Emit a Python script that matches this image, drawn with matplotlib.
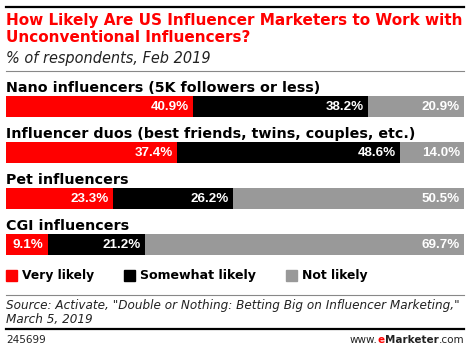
import matplotlib
matplotlib.use("Agg")
import matplotlib.pyplot as plt
from matplotlib.patches import Rectangle
from matplotlib.lines import Line2D

categories = [
    "Nano influencers (5K followers or less)",
    "Influencer duos (best friends, twins, couples, etc.)",
    "Pet influencers",
    "CGI influencers",
]
very_likely = [40.9, 37.4, 23.3, 9.1]
somewhat_likely = [38.2, 48.6, 26.2, 21.2]
not_likely = [20.9, 14.0, 50.5, 69.7]
series_names = ["Very likely", "Somewhat likely", "Not likely"]
colors = ["#ff0000", "#000000", "#999999"]

W, H = 470, 351
fig = plt.figure(figsize=(W / 100, H / 100), dpi=100)
renderer = fig.canvas.get_renderer()

BOLD = "DejaVu Sans"
VAL = "Liberation Sans"
REG = "DejaVu Sans"


def fx(px):
    return px / W


def fy(py):
    return 1 - py / H


def fit(t, target_w):
    fs = t.get_fontsize()
    w = t.get_window_extent(renderer).width
    t.set_fontsize(fs * target_w / w)
    return t


def hline(y, x0, x1, color, lw):
    fig.add_artist(Line2D([fx(x0), fx(x1)], [fy(y), fy(y)], color=color, lw=lw,
                          transform=fig.transFigure))


# header
hline(7, 6, 464, "black", 1.6)
t1 = fig.text(fx(6), fy(20), "How Likely Are US Influencer Marketers to Work with",
              color="#ff0000", fontweight="bold", family=BOLD, fontsize=11, va="center")
fit(t1, 454)
t2 = fig.text(fx(6), fy(38), "Unconventional Influencers?", color="#ff0000",
              fontweight="bold", family=BOLD, fontsize=t1.get_fontsize(), va="center")
t3 = fig.text(fx(6), fy(58), "% of respondents, Feb 2019", style="italic",
              family=REG, fontsize=10, va="center", color="#222222")
fit(t3, 204)
hline(71, 6, 464, "#888888", 0.8)

# bars
h = 21 / 46
ax = fig.add_axes([fx(6), fy(255), fx(464) - fx(6), (255 - 96) / H])
ax.set_xlim(0, 100)
ax.set_ylim(3 + h / 2, -h / 2)
ax.axis("off")
ys = list(range(len(categories)))

probe = fig.text(0, 0, "40.9%", fontweight="bold", family=VAL, fontsize=9)
fit(probe, 38)
val_fs = probe.get_fontsize()
probe.remove()

left = [0] * len(categories)
for vals, col in zip([very_likely, somewhat_likely, not_likely], colors):
    ax.barh(ys, vals, left=left, height=h, color=col, edgecolor="none")
    for y, l, v in zip(ys, left, vals):
        ax.annotate(f"{v:.1f}%", (l + v, y), xytext=(-4, 0), textcoords="offset pixels",
                    ha="right", va="center", color="white", fontweight="bold",
                    family=VAL, fontsize=val_fs)
    left = [a + b for a, b in zip(left, vals)]

cat_texts = []
for y, c in zip(ys, categories):
    t = ax.text(0, y - 0.40, c, ha="left", va="center", fontweight="bold",
                family=BOLD, fontsize=10.5, color="black", clip_on=False)
    cat_texts.append(t)
fs_lab = 10.5 * 411 / cat_texts[1].get_window_extent(renderer).width
for t in cat_texts:
    t.set_fontsize(fs_lab)

# legend
leg_x = [6, 124, 286]
leg_w = [73, 117, 67]
for x, name, col, tw in zip(leg_x, series_names, colors, leg_w):
    fig.add_artist(Rectangle((fx(x), fy(281)), fx(11), 11 / H, color=col,
                             transform=fig.transFigure))
    lt = fig.text(fx(x + 16), fy(275.5), name, fontweight="bold", family=BOLD,
                  fontsize=10.5, va="center")
    fit(lt, tw)

hline(295, 6, 464, "#888888", 0.8)
s1 = fig.text(fx(6), fy(305), "Source: Activate, \"Double or Nothing: Betting Big on Influencer Marketing,\"",
              style="italic", family=REG, fontsize=9, va="center", color="#222222")
fit(s1, 452)
fig.text(fx(6), fy(319), "March 5, 2019", style="italic", family=REG,
         fontsize=s1.get_fontsize(), va="center", color="#222222")
hline(328.5, 6, 464, "black", 1.6)
fig.text(fx(6), fy(340), "245699", fontsize=7.5, family=REG, va="center", color="#222222")
# footer logo built in pieces from right
p3 = fig.text(fx(464), fy(340), ".com", fontsize=7.5, family=REG, va="center",
              ha="right", color="#222222")
w3 = p3.get_window_extent(renderer).width
p2 = fig.text(fx(464 - w3), fy(340), "Marketer", fontsize=7.5, family=BOLD,
              fontweight="bold", va="center", ha="right", color="#222222")
w2 = p2.get_window_extent(renderer).width
p1 = fig.text(fx(464 - w3 - w2), fy(340), "e", fontsize=7.5, family=BOLD,
              fontweight="bold", va="center", ha="right", color="#ff0000")
w1 = p1.get_window_extent(renderer).width
fig.text(fx(464 - w3 - w2 - w1), fy(340), "www.", fontsize=7.5, family=REG,
         va="center", ha="right", color="#222222")

fig.savefig("out.png", dpi=100)
